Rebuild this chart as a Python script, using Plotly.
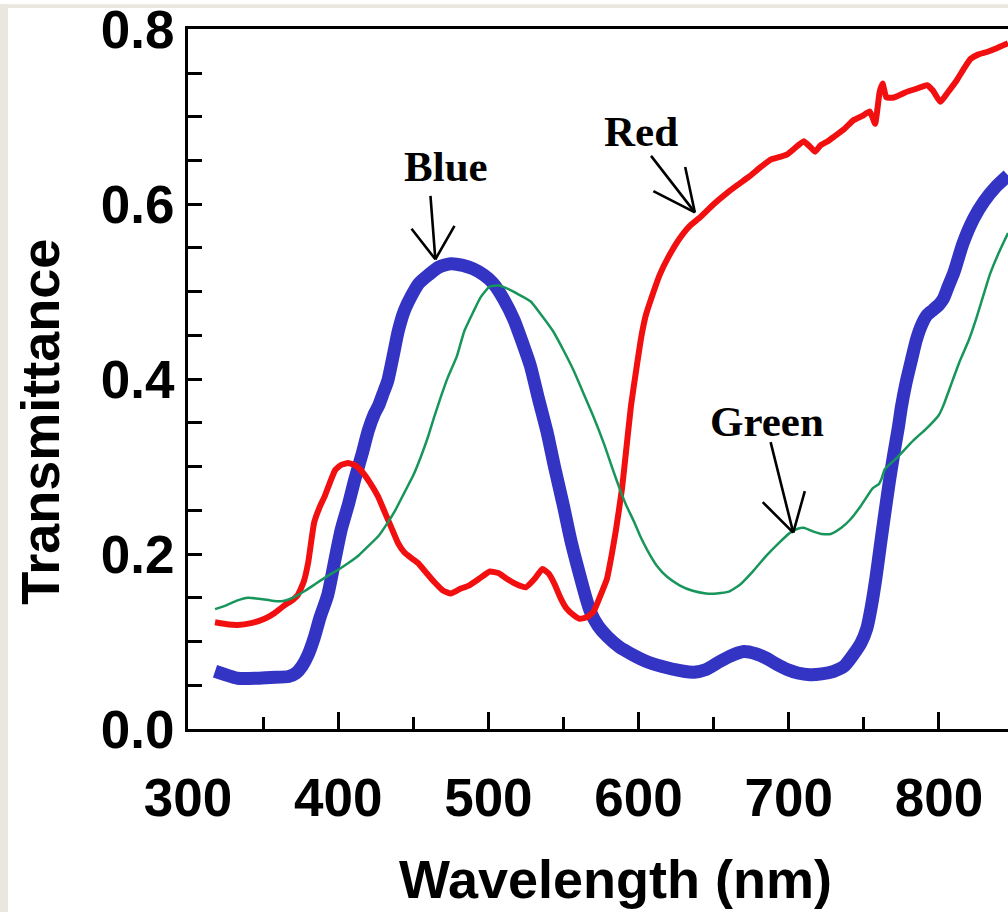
import plotly.graph_objects as go

# ---------------- data ----------------
blue_nm = [318, 325, 333, 345, 355, 367, 372, 376, 380, 384, 388, 393, 398, 402, 407, 411,
           416, 420, 424, 427, 430, 433, 437, 440, 444, 449, 454, 460, 467, 475, 483, 490,
           497, 503, 510, 517, 522, 528, 533, 539, 544, 550, 555, 561, 565, 568, 573, 579,
           587, 596, 607, 619, 630, 637, 645, 654, 662, 670, 678, 685, 692, 699, 706, 714,
           722, 730, 737, 743, 748, 752, 755, 758, 761, 764, 767, 770, 773, 775, 778, 782,
           785, 788.5, 792, 796, 800, 803, 806, 810, 816, 823, 830, 838, 846]
blue_T = [0.066, 0.062, 0.058, 0.058, 0.059, 0.060, 0.064, 0.072, 0.085, 0.104, 0.128, 0.153,
          0.195, 0.228, 0.258, 0.285, 0.315, 0.341, 0.360, 0.370, 0.384, 0.398, 0.430, 0.455,
          0.478, 0.496, 0.510, 0.519, 0.528, 0.532, 0.530, 0.526, 0.519, 0.510, 0.492, 0.468,
          0.445, 0.415, 0.380, 0.340, 0.300, 0.255, 0.215, 0.175, 0.150, 0.134, 0.118, 0.106,
          0.094, 0.085, 0.076, 0.070, 0.066, 0.065, 0.068, 0.077, 0.084, 0.0885, 0.086, 0.081,
          0.074, 0.068, 0.064, 0.062, 0.063, 0.066, 0.072, 0.085, 0.098, 0.115, 0.140, 0.172,
          0.210, 0.247, 0.283, 0.315, 0.345, 0.368, 0.395, 0.424, 0.445, 0.462, 0.473, 0.479,
          0.485, 0.492, 0.505, 0.522, 0.555, 0.583, 0.603, 0.620, 0.633]

red_nm = [318, 325, 333, 342, 351, 358, 364, 370, 373, 377, 380, 384, 388, 391, 395, 398,
          402, 406.5, 411, 415, 421, 426.5, 431, 435, 440, 444, 449, 453, 458, 464, 470, 475,
          481, 487, 494, 501, 507, 512, 518, 525, 531, 536, 540, 544, 548, 552, 557, 561,
          566, 570, 574, 579, 582, 585, 589, 592, 595, 599, 602, 605, 610, 614, 620, 627,
          634, 641, 650, 659, 666, 674, 681, 688, 694, 699, 704, 710, 714, 717.5, 721, 726,
          730, 737, 743, 749, 754, 757.5, 760.5, 762.5, 765, 770, 778, 785, 792, 796, 801,
          806, 812, 817, 821, 826, 832, 838, 846]
red_T = [0.122, 0.120, 0.119, 0.121, 0.126, 0.133, 0.141, 0.148, 0.153, 0.168, 0.190, 0.236,
         0.255, 0.266, 0.284, 0.296, 0.302, 0.304, 0.302, 0.296, 0.282, 0.266, 0.248, 0.232,
         0.212, 0.202, 0.195, 0.190, 0.180, 0.168, 0.158, 0.155, 0.160, 0.164, 0.172, 0.180,
         0.178, 0.172, 0.166, 0.162, 0.172, 0.183, 0.178, 0.166, 0.150, 0.138, 0.130, 0.126,
         0.128, 0.134, 0.150, 0.172, 0.198, 0.228, 0.275, 0.3225, 0.370, 0.417, 0.450, 0.474,
         0.500, 0.519, 0.540, 0.560, 0.575, 0.585, 0.600, 0.613, 0.622, 0.632, 0.642, 0.651,
         0.654, 0.657, 0.664, 0.672, 0.666, 0.660, 0.667, 0.672, 0.677, 0.686, 0.696, 0.701,
         0.706, 0.692, 0.728, 0.738, 0.722, 0.722, 0.728, 0.732, 0.736, 0.730, 0.717, 0.728,
         0.742, 0.756, 0.766, 0.771, 0.774, 0.778, 0.784]

green_nm = [318, 325, 333, 340, 347, 355, 362, 367, 372, 378, 385, 393, 400, 407, 414, 420,
            427, 433, 438, 444, 450, 455, 460, 464, 468, 473, 479, 484, 490, 495, 501, 507,
            512, 520, 528, 535, 543, 550, 557, 563, 570, 577, 583, 588, 592, 597, 601, 606,
            612, 619, 627.6, 636, 645, 652, 660, 667.5, 676, 685, 693, 701, 706, 710, 716,
            722, 728, 735, 741, 748, 756, 760, 762, 764, 772, 783, 792, 800, 803, 809, 814,
            820, 825, 830, 834, 840, 846]
green_T = [0.137, 0.141, 0.147, 0.150, 0.149, 0.147, 0.146, 0.148, 0.152, 0.158, 0.166, 0.175,
           0.182, 0.190, 0.199, 0.209, 0.221, 0.236, 0.250, 0.270, 0.290, 0.311, 0.335, 0.357,
           0.378, 0.402, 0.426, 0.455, 0.477, 0.494, 0.506, 0.507, 0.504, 0.497, 0.489, 0.474,
           0.455, 0.433, 0.409, 0.385, 0.357, 0.326, 0.296, 0.272, 0.255, 0.237, 0.221, 0.204,
           0.187, 0.174, 0.164, 0.158, 0.155, 0.155, 0.157, 0.165, 0.180, 0.198, 0.212, 0.2245,
           0.229, 0.230, 0.226, 0.223, 0.223, 0.230, 0.2395, 0.255, 0.2754, 0.280, 0.287, 0.297,
           0.310, 0.330, 0.344, 0.359, 0.370, 0.398, 0.421, 0.445, 0.470, 0.498, 0.520, 0.545,
           0.567]

x_ticks = [300, 400, 500, 600, 700, 800]
y_ticks = [0.0, 0.2, 0.4, 0.6, 0.8]

# label text, label position (nm, T), arrow tip (nm, T)
labels = ["Blue", "Red", "Green"]
label_pos = [(471.8, 0.643), (601.3, 0.6835), (685.5, 0.3516)]
arrow_tip = [(464.7, 0.537), (637.5, 0.5906), (703.0, 0.2245)]
# arrow shaft and V-head arm offsets (pixels, relative to the tip)
arrow_shaft = [(-5, -65), (-45, -58), (-23, -92)]
arrow_arms = [[(-25, -32), (20, -35)], [(-43, -22), (-10, -47)], [(-32, -32), (12, -43)]]

# ---------------- figure ----------------
W, H = 1008, 913
L, R, T, B = 188, 0, 25, 184
pw, ph = W - L - R, H - T - B

fig = go.Figure()
fig.add_trace(go.Scatter(x=blue_nm, y=blue_T, mode="lines", name="Blue",
                         line=dict(color="#3434C4", width=13, shape="spline", smoothing=0.6)))
fig.add_trace(go.Scatter(x=red_nm, y=red_T, mode="lines", name="Red",
                         line=dict(color="#F20F0F", width=6, shape="spline", smoothing=0.4)))
fig.add_trace(go.Scatter(x=green_nm, y=green_T, mode="lines", name="Green",
                         line=dict(color="#17955A", width=2.5, shape="spline", smoothing=0.5)))

tickfont = dict(family="Liberation Sans, Arial, sans-serif", size=53, color="black", weight="bold")
titlefont = dict(family="Liberation Sans, Arial, sans-serif", size=54, color="black", weight="bold")
labfont = dict(family="Liberation Serif, Times New Roman, serif", size=43, color="black", weight="bold")

annotations = []
for lab, (lx, ly) in zip(labels, label_pos):
    annotations.append(dict(x=lx, y=ly, xref="x", yref="y", text=lab, showarrow=False,
                            font=labfont, xanchor="center", yanchor="middle"))
for (tx, ty), shaft, arms in zip(arrow_tip, arrow_shaft, arrow_arms):
    for (ox, oy) in [shaft] + arms:
        annotations.append(dict(x=tx, y=ty, xref="x", yref="y", text="", showarrow=True,
                                arrowhead=0, arrowwidth=2.6, arrowcolor="black",
                                ax=ox, ay=oy, axref="pixel", ayref="pixel",
                                standoff=0, startstandoff=0))

# axis titles
annotations.append(dict(text="Wavelength (nm)", xref="paper", yref="paper",
                        x=(615 - L) / pw, y=(T + ph - 880) / ph, showarrow=False,
                        xanchor="center", yanchor="middle", font=titlefont))
annotations.append(dict(text="Transmittance", xref="paper", yref="paper",
                        x=(40 - L) / pw, y=(T + ph - 420) / ph, showarrow=False, textangle=-90,
                        xanchor="center", yanchor="middle", font=titlefont))

beige = "#EAE7DE"
shapes = [
    dict(type="rect", xref="paper", yref="paper", x0=(0 - L) / pw, x1=(8 - L) / pw,
         y0=(T + ph - H) / ph, y1=(T + ph) / ph, fillcolor=beige, line=dict(width=0),
         layer="below"),
    dict(type="rect", xref="paper", yref="paper", x0=(0 - L) / pw, x1=1.0,
         y0=(T + ph - 4) / ph, y1=(T + ph) / ph, fillcolor=beige, line=dict(width=0),
         layer="below"),
]

fig.update_layout(
    width=W, height=H,
    margin=dict(l=L, r=R, t=T, b=B, pad=0),
    paper_bgcolor="white", plot_bgcolor="white",
    showlegend=False,
    annotations=annotations,
    shapes=shapes,
    xaxis=dict(range=[300, 846], tickvals=x_ticks, ticktext=[str(v) for v in x_ticks],
               ticks="inside", ticklen=17, tickwidth=3, tickcolor="black",
               minor=dict(dtick=50, tick0=300, ticks="inside", ticklen=12, tickwidth=3,
                          tickcolor="black", showgrid=False),
               showline=True, linewidth=3, linecolor="black", mirror=True,
               showgrid=False, zeroline=False, tickfont=tickfont, ticklabelstandoff=20,
               ticklabeloverflow="allow"),
    yaxis=dict(range=[0, 0.8003], tickvals=y_ticks, ticktext=["%.1f" % v for v in y_ticks],
               ticks="inside", ticklen=14, tickwidth=3, tickcolor="black",
               minor=dict(dtick=0.05, tick0=0, ticks="inside", ticklen=14, tickwidth=3,
                          tickcolor="black", showgrid=False),
               showline=True, linewidth=3, linecolor="black",
               showgrid=False, zeroline=False, tickfont=tickfont, ticklabelstandoff=0,
               ticklabeloverflow="allow"),
)

fig.write_html("out.html", config={"displayModeBar": False},
               post_script="document.body.style.margin='0px';"
                           "document.body.style.overflow='hidden';")
